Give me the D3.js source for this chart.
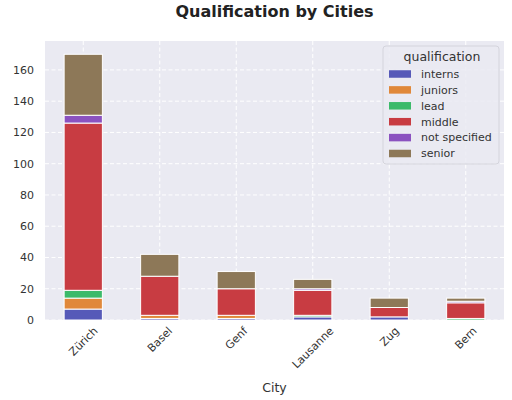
<!DOCTYPE html>
<html>
<head>
<meta charset="utf-8">
<script src="https://cdn.jsdelivr.net/npm/d3@7"></script>
<style>
  body { margin: 0; background: #fff; }
  text { font-family: "DejaVu Sans", sans-serif; }
</style>
</head>
<body>
<div id="chart"></div>
<script>
const cities = ['Zürich', 'Basel', 'Genf', 'Lausanne', 'Zug', 'Bern']
const qualifications = ['interns', 'juniors', 'lead', 'middle', 'not specified', 'senior']
const interns = [7, 1, 1, 2, 2, 0]
const juniors = [7, 2, 2, 0, 0, 0]
const lead = [5, 0, 0, 1, 0, 1]
const middle = [107, 25, 17, 16, 6, 10]
const notSpecified = [5, 0, 0, 1, 0, 1]
const senior = [39, 14, 11, 6, 6, 2]
const yTicks = [0, 20, 40, 60, 80, 100, 120, 140, 160]
const colors = ['#5659b8', '#e0883a', '#3cba6a', '#c83c42', '#8b52c0', '#8d7858']

const series = [interns, juniors, lead, middle, notSpecified, senior]
const table = cities.map((c, i) => {
    const row = { city: c }
    qualifications.forEach((q, j) => { row[q] = series[j][i] })
    return row
})

const width = 512
const height = 400
const margin = { top: 41, right: 8, bottom: 80, left: 45 }
const plotW = width - margin.left - margin.right
const plotH = height - margin.top - margin.bottom

const svg = d3.select('#chart').append('svg')
    .attr('width', width).attr('height', height)

const totals = table.map(d => qualifications.reduce((s, q) => s + d[q], 0))
const x = d3.scaleBand().domain(cities).range([0, plotW]).paddingInner(0.5).paddingOuter(0.25)
const y = d3.scaleLinear().domain([0, d3.max(totals) * 1.05]).range([plotH, 0])
const color = d3.scaleOrdinal().domain(qualifications).range(colors)

const g = svg.append('g').attr('transform', `translate(${margin.left},${margin.top})`)

g.append('rect').attr('width', plotW).attr('height', plotH).attr('fill', '#eaeaf2')

// grid
g.selectAll('.hgrid').data(yTicks).enter().append('line')
    .attr('x1', 0).attr('x2', plotW)
    .attr('y1', d => y(d)).attr('y2', d => y(d))
    .attr('stroke', '#fff').attr('stroke-width', 1).attr('stroke-dasharray', '4,2.5')
g.selectAll('.vgrid').data(cities).enter().append('line')
    .attr('x1', d => x(d) + x.bandwidth() / 2).attr('x2', d => x(d) + x.bandwidth() / 2)
    .attr('y1', 0).attr('y2', plotH)
    .attr('stroke', '#fff').attr('stroke-width', 1).attr('stroke-dasharray', '4,2.5')

// bars
const stacked = d3.stack().keys(qualifications)(table)
g.selectAll('.layer').data(stacked).enter().append('g')
    .attr('fill', d => color(d.key))
    .selectAll('rect').data(d => d).enter().append('rect')
    .attr('x', d => x(d.data.city))
    .attr('width', x.bandwidth())
    .attr('y', d => y(d[1]))
    .attr('height', d => y(d[0]) - y(d[1]))
    .attr('stroke', '#fff').attr('stroke-width', 1)

// y axis labels
g.selectAll('.ylab').data(yTicks).enter().append('text')
    .attr('x', -11).attr('y', d => y(d)).attr('dy', '0.35em')
    .attr('text-anchor', 'end').attr('font-size', 11).attr('fill', '#333')
    .text(d => d)

// x axis labels, rotated 45deg, centered on tick
g.selectAll('.xlab').data(cities).enter().append('text')
    .attr('font-size', 11).attr('fill', '#333')
    .attr('text-anchor', 'middle').attr('dy', '0.35em')
    .text(d => d)
    .each(function (d) {
        const w = this.getComputedTextLength()
        const h = 11
        const cx = x(d) + x.bandwidth() / 2
        const cy = plotH + 5 + (w + h) * Math.SQRT1_2 / 2
        d3.select(this).attr('transform', `translate(${cx},${cy}) rotate(-45)`)
    })

svg.append('text')
    .attr('x', margin.left + plotW / 2).attr('y', 392)
    .attr('text-anchor', 'middle').attr('font-size', 12.5).attr('fill', '#333')
    .text('City')

svg.append('text')
    .attr('x', margin.left + plotW / 2).attr('y', 17)
    .attr('text-anchor', 'middle').attr('font-size', 16).attr('font-weight', 'bold').attr('fill', '#222')
    .text('Qualification by Cities')

// legend
const legend = svg.append('g').attr('transform', 'translate(383,46)')
legend.append('rect').attr('width', 116).attr('height', 118).attr('rx', 3)
    .attr('fill', '#eaeaf2').attr('fill-opacity', 0.85).attr('stroke', '#d4d4dc')
legend.append('text').attr('x', 59).attr('y', 15).attr('text-anchor', 'middle')
    .attr('font-size', 12.5).attr('fill', '#333').text('qualification')
const items = legend.selectAll('.item').data(qualifications).enter().append('g')
    .attr('transform', (d, i) => `translate(6,${28 + i * 15.9})`)
items.append('rect').attr('width', 22).attr('height', 7.5).attr('y', -3.75)
    .attr('fill', d => color(d))
items.append('text').attr('x', 32).attr('dy', '0.35em')
    .attr('font-size', 11).attr('fill', '#333').text(d => d)
</script>
</body>
</html>
